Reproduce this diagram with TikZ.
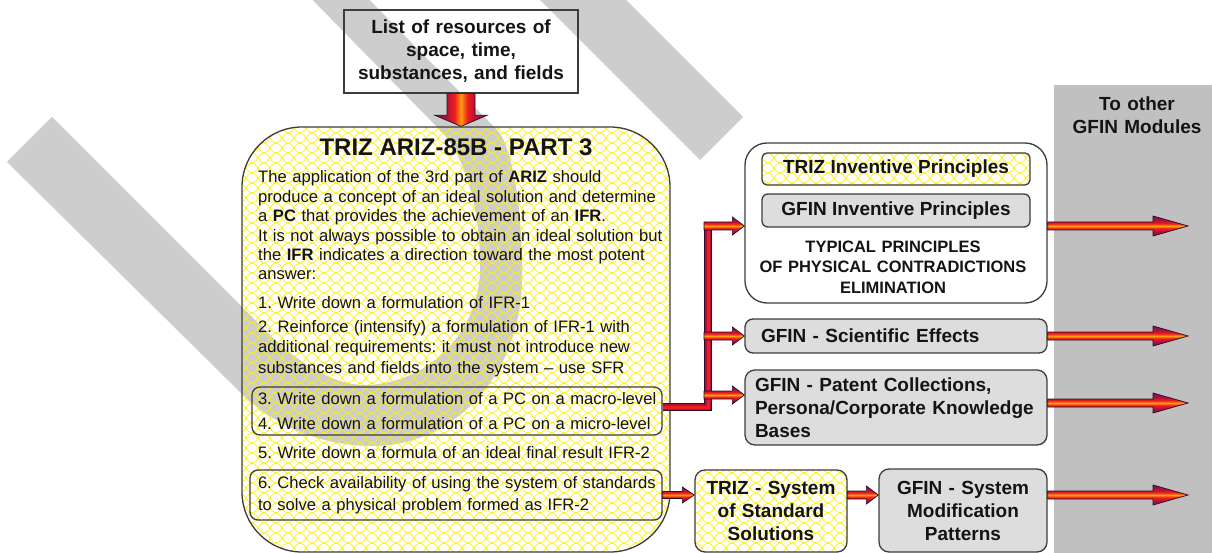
\documentclass[tikz,border=0pt]{standalone}
\usepackage{fontspec}
\setmainfont{Liberation Sans}
\usetikzlibrary{calc,patterns.meta}

\definecolor{wmgray}{RGB}{205,205,205}
\definecolor{colgray}{RGB}{192,192,192}
\definecolor{boxgray}{RGB}{221,221,221}
\definecolor{edge}{RGB}{60,60,60}
\definecolor{hatch}{RGB}{255,240,0}
\definecolor{apurple}{RGB}{92,26,107}
\definecolor{acrimson}{RGB}{176,16,58}
\definecolor{ared}{RGB}{240,30,30}
\definecolor{aorange}{RGB}{255,160,16}
\definecolor{aedge}{RGB}{45,10,40}
\definecolor{ink}{RGB}{20,20,20}

% wavy yellow mesh used for the TRIZ boxes
\tikzdeclarepattern{
  name=yscales,
  type=uncolored,
  bounding box={(-1pt,-1pt) and (13pt,11pt)},
  tile size={(12pt,10pt)},
  code={
    \draw[line width=0.65pt] (0pt,0pt) .. controls (7.2pt,2pt) and (4.8pt,8pt) .. (12pt,10pt);
    \draw[line width=0.65pt] (0pt,10pt) .. controls (7.2pt,8pt) and (4.8pt,2pt) .. (12pt,0pt);
  }
}

% gradient across the block arrows
\pgfdeclareverticalshading{fatshade}{100bp}{color(0bp)=(apurple); color(22bp)=(apurple); color(36bp)=(acrimson); color(44bp)=(ared); color(50bp)=(aorange); color(56bp)=(ared); color(64bp)=(acrimson); color(78bp)=(apurple); color(100bp)=(apurple)}

\newcommand\txtbody{\fontsize{16.6pt}{19.4pt}\selectfont}
\newcommand\txtlabel{\fontsize{19pt}{23pt}\selectfont\bfseries}

\tikzset{
  fat shaft/.store in=\fatS, fat head/.store in=\fatH, fat len/.store in=\fatL,
  fat shaft=4pt, fat head=10pt, fat len=35pt,
  fatarrow/.style={shade, shading=fatshade, draw=aedge, line width=0.7pt, line join=miter},
  box/.style={draw=edge, line width=1.3pt, inner sep=0pt, text=ink},
  hatched/.style={box, pattern=yscales, pattern color=hatch},
  greybox/.style={box, fill=boxgray},
  plain/.style={inner sep=0pt, text=ink},
  busline/.style={draw=aedge, line width=8pt, line join=miter,
    postaction={draw=acrimson, line width=6pt},
    postaction={draw=ared, line width=3pt}},
}

% block arrow from #2 to #3 (options: fat shaft, fat head, fat len, shading angle)
\newcommand\fatarrow[3][]{%
  \begin{scope}[#1]
  \coordinate (fa-s) at (#2);
  \coordinate (fa-e) at (#3);
  \coordinate (fa-m) at ($(fa-e)!\fatL!(fa-s)$);
  \path[fatarrow] ($(fa-s)!\fatS!90:(fa-e)$) -- ($(fa-m)!\fatS!-90:(fa-s)$)
    -- ($(fa-m)!\fatH!-90:(fa-s)$) -- (fa-e) -- ($(fa-m)!\fatH!90:(fa-s)$)
    -- ($(fa-m)!\fatS!90:(fa-s)$) -- ($(fa-s)!\fatS!-90:(fa-e)$) -- cycle;
  \end{scope}}

\frenchspacing
\hyphenpenalty=10000

\begin{document}
\begin{tikzpicture}[x=1pt,y=-1pt]
\useasboundingbox (0,0) rectangle (1212,553);
\fill[white] (0,0) rectangle (1212,553);

% light grey hook-shaped stroke and the single band at the top
\fill[wmgray] (7,162) -- (52,117) -- (265,330)
  .. controls (295,360) and (330,385) .. (365,385)
  .. controls (420,385) and (478,340) .. (480,270)
  .. controls (481,210) and (465,155) .. (440,130)
  -- (293,-20) -- (350,-20) -- (497,130)
  .. controls (512,145) and (523,210) .. (522,280)
  .. controls (520,380) and (450,446) .. (373,446)
  .. controls (320,446) and (275,425) .. (245,397) -- cycle;
\fill[wmgray] (700,160) -- (743,117) -- (606,-20) -- (520,-20) -- cycle;

% column on the right
\node[fill=colgray, minimum width=158pt, minimum height=468pt, inner sep=0pt, anchor=north west] (col) at (1054,85) {};
\node[plain, anchor=base, text width=150pt, align=center, font=\txtlabel] (colt) at (1137,111) {To other\\ GFIN Modules};

% resources
\node[box, minimum width=234pt, minimum height=83pt, text width=226pt, align=center, font=\txtlabel] (res) at (461,51.5) {List of resources of\\ space, time,\\ substances, and fields};

% ARIZ part 3
\node[hatched, rounded corners=60pt, minimum width=428pt, minimum height=425pt] (ariz) at (456,339.5) {};
\node[plain, font=\fontsize{24pt}{28pt}\selectfont\bfseries] (title) at (456,147) {TRIZ ARIZ-85B - PART 3};
\node[plain, anchor=base west, text width=420pt, align=left, font=\txtbody] (intro) at (258,183)
  {The application of the 3rd part of \textbf{ARIZ} should\\
   produce a concept of an ideal solution and determine\\
   a \textbf{PC} that provides the achievement of an \textbf{IFR}.\\
   It is not always possible to obtain an ideal solution but\\
   the \textbf{IFR} indicates a direction toward the most potent\\
   answer:};
\node[plain, anchor=base west, text width=420pt, align=left, font=\txtbody] (step1) at (258,308)
  {1. Write down a formulation of IFR-1};
\node[plain, anchor=base west, text width=420pt, align=left, font=\fontsize{16.6pt}{20.5pt}\selectfont] (step2) at (258,332)
  {2. Reinforce (intensify) a formulation of IFR-1 with\\
   additional requirements: it must not introduce new\\
   substances and fields into the system -- use SFR};
\node[box, rounded corners=8pt, minimum width=410pt, minimum height=48pt, text width=406pt, inner xsep=2pt, align=left, font=\fontsize{16.6pt}{25pt}\selectfont] (pc) at (457,411)
  {\hspace*{4pt}3. Write down a formulation of a PC on a macro-level\\
   \hspace*{4pt}4. Write down a formulation of a PC on a micro-level};
\node[plain, anchor=base west, text width=420pt, align=left, font=\txtbody] (step5) at (258,458)
  {5. Write down a formula of an ideal final result IFR-2};
\node[box, rounded corners=8pt, minimum width=412pt, minimum height=50pt, text width=408pt, inner xsep=2pt, align=left, font=\fontsize{16.6pt}{22pt}\selectfont] (s6) at (456,495)
  {\hspace*{6pt}6. Check availability of using the system of standards\\
   \hspace*{6pt}to solve a physical problem formed as IFR-2};

% principles group
\node[box, fill=white, rounded corners=22pt, minimum width=302pt, minimum height=160pt] (typ) at (896,223) {};
\node[hatched, rounded corners=5pt, minimum width=268pt, minimum height=32pt, font=\txtlabel] (trizip) at (896,169) {TRIZ Inventive Principles};
\node[greybox, rounded corners=6pt, minimum width=268pt, minimum height=33pt, font=\txtlabel] (gfinip) at (896,210.5) {GFIN Inventive Principles};
\node[plain, anchor=base, text width=300pt, align=center, font=\fontsize{16.5pt}{20pt}\selectfont\bfseries] (typtext) at (893,253)
  {TYPICAL PRINCIPLES\\ OF PHYSICAL CONTRADICTIONS\\ ELIMINATION};

\node[greybox, rounded corners=8pt, minimum width=302pt, minimum height=34pt, text width=270pt, inner xsep=16pt, align=left, font=\txtlabel] (sci) at (896,336) {GFIN - Scientific Effects};
\node[greybox, rounded corners=10pt, minimum width=302pt, minimum height=75pt, text width=282pt, inner xsep=10pt, align=left, font=\txtlabel] (pat) at (896,407.5)
  {GFIN - Patent Collections,\\ Persona/Corporate Knowledge\\ Bases};

% bottom row
\node[hatched, rounded corners=10pt, minimum width=152pt, minimum height=82pt, text width=150pt, align=center, font=\txtlabel] (std) at (771,511) {TRIZ - System\\ of Standard\\ Solutions};
\node[greybox, rounded corners=10pt, minimum width=168pt, minimum height=83pt, text width=160pt, align=center, font=\txtlabel] (sysmod) at (963,510.5) {GFIN - System\\ Modification\\ Patterns};

% connector ends
\coordinate (e1) at (1188,226);
\coordinate (e2) at (1188,336);
\coordinate (e3) at (1188,403);
\coordinate (e4) at (1188,495);
\coordinate (jn) at (708,407);
\coordinate (b1) at (704,226);
\coordinate (b2) at (704,336);
\coordinate (b3) at (704,395);

% resources feed ARIZ
\fatarrow[fat shaft=14pt, fat head=26pt, fat len=11pt, shading angle=90]{res.south}{res.south |- ariz.north}

% steps 3-4 to the principles group
\path[busline] (pc.east |- jn) -- (jn) -- (jn |- b1);
\fatarrow[fat shaft=4pt, fat head=9pt, fat len=12pt]{b1}{typ.west |- b1}
\fatarrow[fat shaft=4pt, fat head=9pt, fat len=12pt]{b2}{sci.west |- b2}
\fatarrow[fat shaft=4pt, fat head=9pt, fat len=12pt]{b3}{pat.west |- b3}

% step 6 to standard solutions and modification patterns
\fatarrow[fat shaft=3.5pt, fat head=8pt, fat len=12pt]{s6.east}{std.west |- s6.east}
\fatarrow[fat shaft=4pt, fat head=9pt, fat len=12pt]{std.east |- s6.east}{sysmod.west |- s6.east}

% out to other modules
\fatarrow{typ.east |- e1}{e1}
\fatarrow{sci.east |- e2}{e2}
\fatarrow{pat.east |- e3}{e3}
\fatarrow{sysmod.east |- e4}{e4}
\end{tikzpicture}
\end{document}
